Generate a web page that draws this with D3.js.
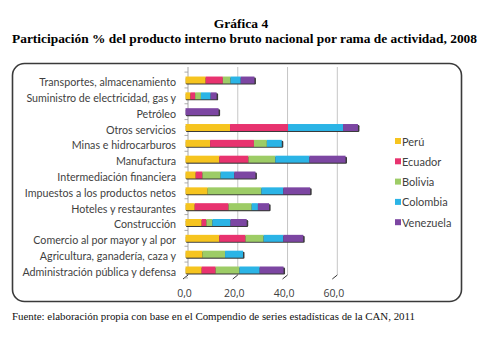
<!DOCTYPE html>
<html><head><meta charset="utf-8">
<script src="https://cdn.jsdelivr.net/npm/d3@7"></script>
<style>html,body{margin:0;padding:0;background:#fff;}svg{display:block;}</style>
</head><body>
<script>
const categories = ["Transportes, almacenamiento","Suministro de electricidad, gas y","Petróleo","Otros servicios","Minas e hidrocarburos","Manufactura","Intermediación financiera","Impuestos a los productos netos","Hoteles y restaurantes","Construcción","Comercio al por mayor y al por","Agricultura, ganadería, caza y","Administración pública y defensa"];
const seriesNames = ["Perú","Ecuador","Bolivia","Colombia","Venezuela"];
const peru      = [8.1, 2.0, 0, 17.9, 9.9, 13.6, 4.1, 8.9, 3.7, 6.5, 13.6, 6.8, 6.5];
const ecuador   = [6.9, 1.9, 0, 23.3, 17.6, 11.7, 2.7, 0, 13.6, 1.9, 10.5, 0, 5.6];
const bolivia   = [3.1, 2.3, 0, 0, 5.2, 10.8, 7.3, 21.6, 9.3, 2.4, 7.3, 9.1, 9.6];
const colombia  = [4.1, 3.9, 0, 22.1, 6.0, 13.7, 5.5, 8.8, 2.5, 7.3, 7.9, 7.2, 8.1];
const venezuela = [5.5, 2.4, 13.3, 6.0, 0, 14.5, 8.5, 10.8, 4.5, 6.5, 8.0, 0, 9.6];
const ticks = [0, 20, 40, 60];
const tickLabels = ["0,0","20,0","40,0","60,0"];
const colors = ["#F6C41F","#E8336F","#9DCC66","#2BB4E6","#7C46A2"];

const W = 494, H = 349;
const svg = d3.select("body").append("svg").attr("width", W).attr("height", H);

// Titles
svg.append("text").attr("x", 241).attr("y", 28).attr("text-anchor","middle")
  .style("font-family","'Liberation Serif', serif").style("font-weight","bold").style("font-size","13.5px")
  .text("Gráfica 4");
svg.append("text").attr("x", 244.5).attr("y", 43).attr("text-anchor","middle")
  .style("font-family","'Liberation Serif', serif").style("font-weight","bold").style("font-size","13.5px")
  .attr("textLength", 465).attr("lengthAdjust","spacingAndGlyphs")
  .text("Participación % del producto interno bruto nacional por rama de actividad, 2008");

// Border
svg.append("rect").attr("x", 12.5).attr("y", 63.5).attr("width", 449).attr("height", 238)
  .attr("rx", 12).attr("ry", 12).attr("fill","#fff").attr("stroke","#3a3a3a").attr("stroke-width", 1.6);

const x = d3.scaleLinear().domain([0, 60]).range([185.5, 334.8]);
const y = d3.scaleBand().domain(categories).range([72.1, 277.9]).paddingInner(0.56).paddingOuter(0.28);
const depthX = 2.5;

// gridlines on back wall
const g = svg.append("g");
g.selectAll("line.grid").data(ticks).join("line")
  .attr("x1", d => x(d) + depthX).attr("x2", d => x(d) + depthX)
  .attr("y1", 67).attr("y2", 275)
  .attr("stroke", d => d === 0 ? "#a8a8a8" : "#c6c6c6").attr("stroke-width", 1);
g.selectAll("line.floor").data(ticks).join("line")
  .attr("x1", d => x(d) + depthX).attr("x2", d => x(d) - 2.5)
  .attr("y1", 275).attr("y2", 279)
  .attr("stroke", "#333").attr("stroke-width", 1);
g.selectAll("text.tick").data(ticks).join("text")
  .attr("x", d => x(d) - 1).attr("y", 297).attr("text-anchor","middle")
  .style("font-family","'Open Sans', sans-serif").style("font-size","10.5px").attr("fill","#404040")
  .text((d,i) => tickLabels[i]);

// category ticks on left wall
const step = y.step();
g.selectAll("line.ctick").data(d3.range(categories.length + 1)).join("line")
  .attr("x1", x(0) - 1).attr("x2", x(0) + depthX)
  .attr("y1", i => 72.1 + i * step).attr("y2", i => 72.1 + i * step)
  .attr("stroke", "#999").attr("stroke-width", 0.8);

// category labels
svg.append("g").selectAll("text").data(categories).join("text")
  .attr("x", 176).attr("y", d => y(d) + y.bandwidth()/2 + 1.5)
  .attr("text-anchor","end").attr("dominant-baseline","central")
  .style("font-family","Lato, sans-serif").style("font-size","10.7px").attr("fill","#3f3f3f")
  .text(d => d);

// stack
const rows = categories.map((c, i) => ({cat: c, "Perú": peru[i], "Ecuador": ecuador[i], "Bolivia": bolivia[i], "Colombia": colombia[i], "Venezuela": venezuela[i]}));
const stacked = d3.stack().keys(seriesNames)(rows);

// shadows (3D side)
svg.append("g").selectAll("rect").data(rows).join("rect")
  .attr("x", x(0) + 0.3)
  .attr("y", d => y(d.cat) + 1)
  .attr("width", d => x(d3.sum(seriesNames, k => d[k])) - x(0) + 1.2)
  .attr("height", y.bandwidth())
  .attr("rx", 1.2)
  .attr("fill", "#3a3a3a");

svg.append("g").selectAll("g").data(stacked).join("g")
  .attr("fill", (d, i) => colors[i])
  .selectAll("rect").data(d => d).join("rect")
  .attr("x", d => x(d[0]))
  .attr("y", d => y(d.data.cat))
  .attr("width", d => Math.max(0, x(d[1]) - x(d[0])))
  .attr("height", y.bandwidth());

// legend
const lg = svg.append("g").selectAll("g").data(seriesNames).join("g")
  .attr("transform", (d, i) => `translate(395, ${141 + i * 20.3})`);
lg.append("rect").attr("x", 0).attr("y", -3).attr("width", 6).attr("height", 6).attr("fill", (d, i) => colors[i]);
lg.append("text").attr("x", 7).attr("y", 0).attr("dominant-baseline","central")
  .style("font-family","Lato, sans-serif").style("font-size","11px").attr("fill","#3f3f3f")
  .text(d => d);

// source
svg.append("text").attr("x", 12).attr("y", 320)
  .style("font-family","'Liberation Serif', serif").style("font-size","10px").attr("fill","#111")
  .attr("textLength", 403).attr("lengthAdjust","spacingAndGlyphs")
  .text("Fuente: elaboración propia con base en el Compendio de series estadísticas de la CAN, 2011");
</script>
</body></html>
